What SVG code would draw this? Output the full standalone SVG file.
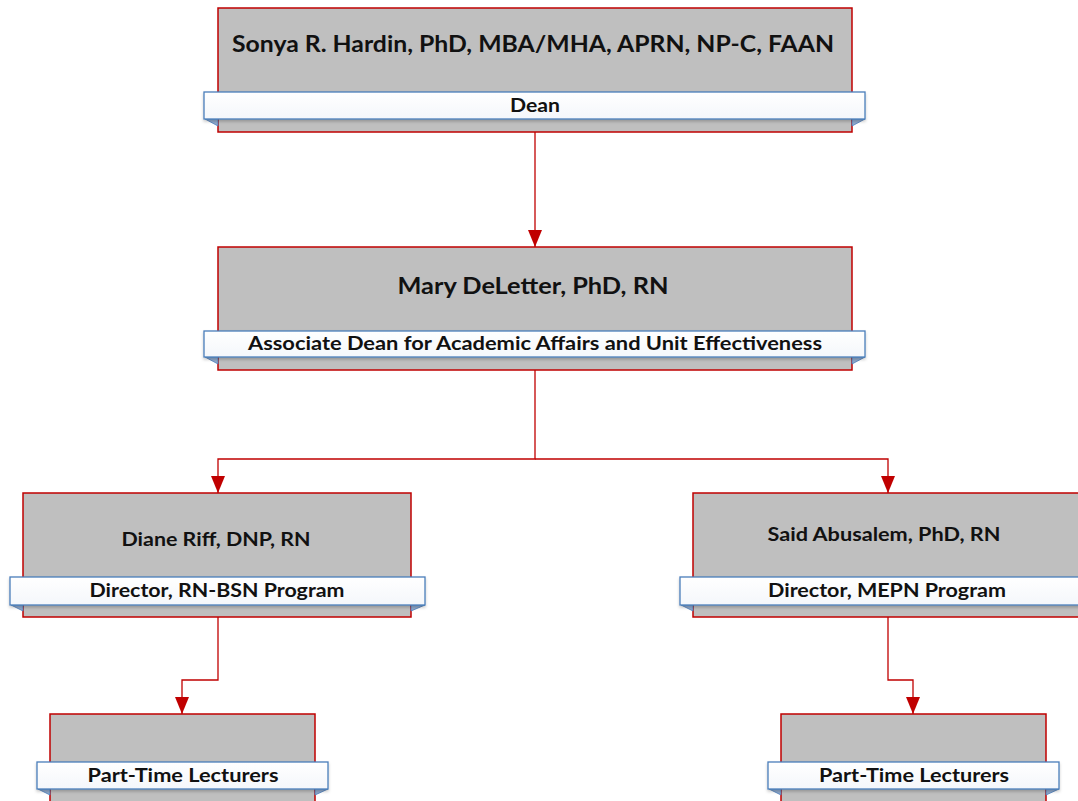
<svg xmlns="http://www.w3.org/2000/svg" width="1078" height="801" viewBox="0 0 1078 801">
  <defs>
    <style>
      .box { fill: #BFBFBF; stroke: #C00000; stroke-width: 1.5; }
      .banner { fill: url(#bannerFill); stroke: #4A7EBB; stroke-width: 1.3; }
      .fold { fill: #8FA9CC; stroke: #4A7EBB; stroke-width: 0.8; }
      .conn { fill: none; stroke: #C00000; stroke-width: 1.3; }
      .name { font-family: Lato, "Open Sans", "Liberation Sans", sans-serif; font-weight: bold; fill: #111; text-anchor: middle; }
      .role { font-family: Lato, "Open Sans", "Liberation Sans", sans-serif; font-weight: bold; fill: #111; text-anchor: middle; font-size: 18.5px; }
    </style>
    <linearGradient id="bannerFill" x1="0" y1="0" x2="0" y2="1">
      <stop offset="0" stop-color="#FFFFFF"/>
      <stop offset="1" stop-color="#F4F7FB"/>
    </linearGradient>
    <filter id="shadow" x="-5%" y="-30%" width="110%" height="170%">
      <feDropShadow dx="0" dy="2" stdDeviation="1.5" flood-color="#000" flood-opacity="0.22"/>
    </filter>
    <marker id="arrow" viewBox="0 0 17 14" refX="17" refY="7" markerWidth="17" markerHeight="14" markerUnits="userSpaceOnUse" orient="auto">
      <path d="M0,0 L17,7 L0,14 Z" fill="#C00000"/>
    </marker>
  </defs>

  <!-- reporting lines -->
  <g id="connectors">
    <path class="conn" d="M535,132 V247" marker-end="url(#arrow)"/>
    <path class="conn" d="M535,370 V459 H218 V493" marker-end="url(#arrow)"/>
    <path class="conn" d="M535,459 H888 V493" marker-end="url(#arrow)"/>
    <path class="conn" d="M218,617 V680 H182 V714" marker-end="url(#arrow)"/>
    <path class="conn" d="M888,617 V680 H913 V714" marker-end="url(#arrow)"/>
  </g>

  <g id="dean">
    <rect class="box" x="218" y="8" width="634" height="124"/>
    <polygon class="fold" points="205,119 218,126 218,119"/>
    <polygon class="fold" points="865,119 852,126 852,119"/>
    <rect class="banner" x="204" y="92" width="661" height="27" filter="url(#shadow)"/>
    <text class="name" x="533" y="52" font-size="23.5" textLength="602" lengthAdjust="spacingAndGlyphs">Sonya R. Hardin, PhD, MBA/MHA, APRN, NP-C, FAAN</text>
    <text class="role" x="535" y="112" textLength="50" lengthAdjust="spacingAndGlyphs">Dean</text>
  </g>

  <g id="associate-dean">
    <rect class="box" x="218" y="247" width="634" height="123"/>
    <polygon class="fold" points="205,357 218,364 218,357"/>
    <polygon class="fold" points="865,357 852,364 852,357"/>
    <rect class="banner" x="204" y="331" width="661" height="26" filter="url(#shadow)"/>
    <text class="name" x="533" y="294" font-size="23.5" textLength="271" lengthAdjust="spacingAndGlyphs">Mary DeLetter, PhD, RN</text>
    <text class="role" x="535" y="350" textLength="574" lengthAdjust="spacingAndGlyphs">Associate Dean for Academic Affairs and Unit Effectiveness</text>
  </g>

  <g id="director-rn-bsn">
    <rect class="box" x="23" y="493" width="388" height="124"/>
    <polygon class="fold" points="11,605 23,611 23,605"/>
    <polygon class="fold" points="425,605 411,611 411,605"/>
    <rect class="banner" x="10" y="577" width="415" height="28" filter="url(#shadow)"/>
    <text class="name" x="216" y="546" font-size="19.5" textLength="189" lengthAdjust="spacingAndGlyphs">Diane Riff, DNP, RN</text>
    <text class="role" x="217" y="597" textLength="255" lengthAdjust="spacingAndGlyphs">Director, RN-BSN Program</text>
  </g>

  <g id="director-mepn">
    <rect class="box" x="693" y="493" width="400" height="124"/>
    <polygon class="fold" points="681,605 693,611 693,605"/>
    <rect class="banner" x="680" y="577" width="410" height="28" filter="url(#shadow)"/>
    <text class="name" x="884" y="541" font-size="19.5" textLength="233" lengthAdjust="spacingAndGlyphs">Said Abusalem, PhD, RN</text>
    <text class="role" x="887" y="597" textLength="238" lengthAdjust="spacingAndGlyphs">Director, MEPN Program</text>
  </g>

  <g id="lecturers-rn-bsn">
    <rect class="box" x="50" y="714" width="265" height="100"/>
    <polygon class="fold" points="38,789 50,795 50,789"/>
    <polygon class="fold" points="328,789 315,795 315,789"/>
    <rect class="banner" x="37" y="762" width="291" height="27" filter="url(#shadow)"/>
    <text class="role" x="183" y="782" textLength="191" lengthAdjust="spacingAndGlyphs">Part-Time Lecturers</text>
  </g>

  <g id="lecturers-mepn">
    <rect class="box" x="781" y="714" width="265" height="100"/>
    <polygon class="fold" points="769,789 781,795 781,789"/>
    <polygon class="fold" points="1059,789 1046,795 1046,789"/>
    <rect class="banner" x="768" y="762" width="291" height="27" filter="url(#shadow)"/>
    <text class="role" x="914" y="782" textLength="190" lengthAdjust="spacingAndGlyphs">Part-Time Lecturers</text>
  </g>
</svg>
